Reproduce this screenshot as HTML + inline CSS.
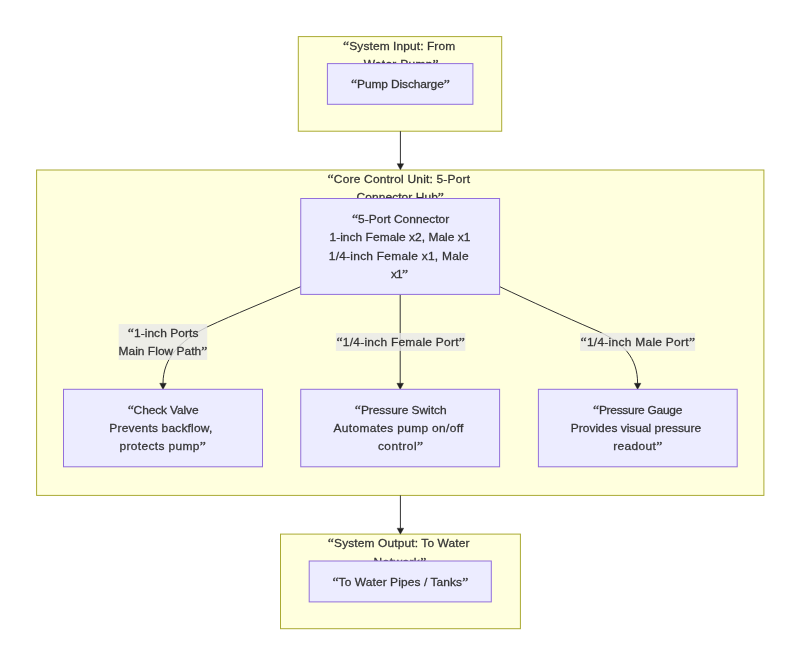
<!DOCTYPE html>
<html><head><meta charset="utf-8">
<style>
html,body{margin:0;padding:0;background:#fff;width:800px;height:665px;overflow:hidden}
svg{display:block}
#w{width:800px;height:665px;will-change:transform}
text{font-family:"Liberation Sans",sans-serif;font-size:11.2px;fill:#333;text-anchor:middle;stroke:#333;stroke-width:0.25px}
.cl{fill:#ffffde;stroke:#aaaa33;stroke-width:1}
.nd{fill:#ececff;stroke:#9370db;stroke-width:1}
.ed{fill:none;stroke:#333;stroke-width:1}
.lb{fill:rgba(232,232,232,0.8)}
.ah{fill:#222;stroke:#222;stroke-width:0.4}
.q{font-family:"Liberation Serif",serif;font-size:12.88px}
</style></head>
<body><div id="w">
<svg width="800" height="665" viewBox="0 0 800 665">
<rect class="cl" x="298.3" y="36.6" width="203.4" height="94.6"/>
<text transform="translate(399.10 50.00) scale(1.070 1)" textLength="104.76" lengthAdjust="spacing"><tspan class="q">“</tspan>System Input: From</text>
<text transform="translate(401.25 68.20) scale(1.070 1)" textLength="70.06" lengthAdjust="spacing">Water Pump<tspan class="q">”</tspan></text>
<rect class="cl" x="36.6" y="170" width="727.3" height="325.4"/>
<text transform="translate(398.80 183.00) scale(1.070 1)" textLength="133.23" lengthAdjust="spacing"><tspan class="q">“</tspan>Core Control Unit: 5-Port</text>
<text transform="translate(400.30 201.20) scale(1.070 1)" textLength="81.68" lengthAdjust="spacing">Connector Hub<tspan class="q">”</tspan></text>
<rect class="cl" x="280.5" y="534.1" width="239.9" height="94.6"/>
<text transform="translate(398.68 547.30) scale(1.070 1)" textLength="132.43" lengthAdjust="spacing"><tspan class="q">“</tspan>System Output: To Water</text>
<text transform="translate(399.95 565.50) scale(1.070 1)" textLength="49.34" lengthAdjust="spacing">Network<tspan class="q">”</tspan></text>
<path class="ed" d="M400.4 131.2 L400.4 164"/>
<path class="ah" d="M397.1 163.7 L403.7 163.7 L400.4 169.8 Z"/>
<path class="ed" d="M400.4 495.4 L400.4 528.5"/>
<path class="ah" d="M397.1 528.2 L403.7 528.2 L400.4 534.2 Z"/>
<path class="ed" d="M400.2 294.4 L400.2 383.5"/>
<path class="ah" d="M396.9 383.3 L403.5 383.3 L400.2 389.4 Z"/>
<path class="ed" d="M300.75 286.6 C265 302 235 314 207 327 C180 341 163 358 163 383.5"/>
<path class="ah" d="M159.7 383.3 L166.3 383.3 L163 389.4 Z"/>
<path class="ed" d="M499.6 286.6 C530 301 565 317 594 329.5 C624 342 637.6 358 637.6 383.5"/>
<path class="ah" d="M634.3 383.3 L640.9 383.3 L637.6 389.4 Z"/>
<rect class="lb" x="118.7" y="324.1" width="88.5" height="35.8"/>
<rect class="lb" x="335.9" y="333" width="129.4" height="17.9"/>
<rect class="lb" x="580.1" y="332.9" width="115" height="18"/>
<text transform="translate(163.10 337.20) scale(1.070 1)" textLength="66.12" lengthAdjust="spacing"><tspan class="q">“</tspan>1-inch Ports</text>
<text transform="translate(162.95 355.40) scale(1.070 1)" textLength="83.15" lengthAdjust="spacing">Main Flow Path<tspan class="q">”</tspan></text>
<text transform="translate(400.65 345.90) scale(1.070 1)" textLength="120.07" lengthAdjust="spacing"><tspan class="q">“</tspan>1/4-inch Female Port<tspan class="q">”</tspan></text>
<text transform="translate(637.75 345.90) scale(1.070 1)" textLength="107.04" lengthAdjust="spacing"><tspan class="q">“</tspan>1/4-inch Male Port<tspan class="q">”</tspan></text>
<rect class="nd" x="327.4" y="63.6" width="145.5" height="40.7"/>
<rect class="nd" x="300.75" y="198.5" width="198.85" height="95.9"/>
<rect class="nd" x="63.5" y="389.3" width="199" height="77.5"/>
<rect class="nd" x="300.75" y="389.3" width="198.85" height="77.5"/>
<rect class="nd" x="538.4" y="389.3" width="198.8" height="77.5"/>
<rect class="nd" x="309.2" y="561" width="182.1" height="40.9"/>
<text transform="translate(400.45 88.00) scale(1.070 1)" textLength="92.22" lengthAdjust="spacing"><tspan class="q">“</tspan>Pump Discharge<tspan class="q">”</tspan></text>
<text transform="translate(400.60 223.20) scale(1.070 1)" textLength="90.86" lengthAdjust="spacing"><tspan class="q">“</tspan>5-Port Connector</text>
<text transform="translate(400.00 241.45) scale(1.070 1)" textLength="131.86" lengthAdjust="spacing">1-inch Female x2, Male x1</text>
<text transform="translate(398.70 259.70) scale(1.070 1)" textLength="130.77" lengthAdjust="spacing">1/4-inch Female x1, Male</text>
<text transform="translate(399.50 277.95) scale(1.070 1)" textLength="16.04" lengthAdjust="spacing">x1<tspan class="q">”</tspan></text>
<text transform="translate(163.12 413.80) scale(1.070 1)" textLength="66.35" lengthAdjust="spacing"><tspan class="q">“</tspan>Check Valve</text>
<text transform="translate(160.80 432.00) scale(1.070 1)" textLength="96.20" lengthAdjust="spacing">Prevents backflow,</text>
<text transform="translate(162.65 450.30) scale(1.070 1)" textLength="80.68" lengthAdjust="spacing">protects pump<tspan class="q">”</tspan></text>
<text transform="translate(400.70 413.80) scale(1.070 1)" textLength="85.75" lengthAdjust="spacing"><tspan class="q">“</tspan>Pressure Switch</text>
<text transform="translate(398.50 432.00) scale(1.070 1)" textLength="121.39" lengthAdjust="spacing">Automates pump on/off</text>
<text transform="translate(400.50 450.30) scale(1.070 1)" textLength="42.28" lengthAdjust="spacing">control<tspan class="q">”</tspan></text>
<text transform="translate(637.70 413.80) scale(1.070 1)" textLength="83.39" lengthAdjust="spacing"><tspan class="q">“</tspan>Pressure Gauge</text>
<text transform="translate(636.00 432.00) scale(1.070 1)" textLength="121.81" lengthAdjust="spacing">Provides visual pressure</text>
<text transform="translate(637.80 450.30) scale(1.070 1)" textLength="45.89" lengthAdjust="spacing">readout<tspan class="q">”</tspan></text>
<text transform="translate(400.35 585.60) scale(1.070 1)" textLength="127.02" lengthAdjust="spacing"><tspan class="q">“</tspan>To Water Pipes / Tanks<tspan class="q">”</tspan></text>
</svg></div>
</body></html>
